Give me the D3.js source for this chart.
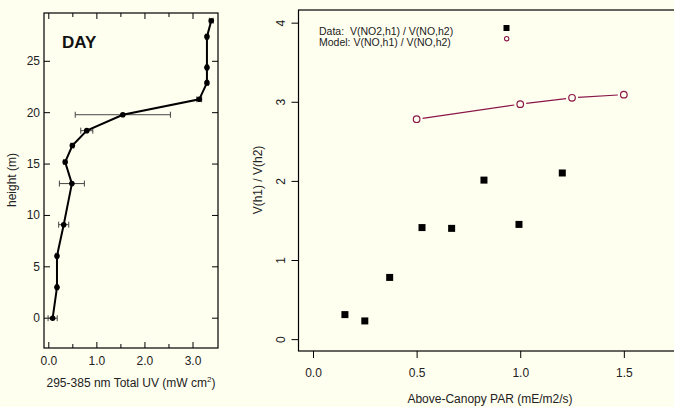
<!DOCTYPE html>
<html>
<head>
<meta charset="utf-8">
<script src="https://cdn.jsdelivr.net/npm/d3@7"></script>
<style>
  body { margin: 0; background: #FFFFF0; }
  svg { display: block; font-family: "Liberation Sans", Arial, sans-serif; }
</style>
</head>
<body>
<div id="chart"></div>
<script>
// left panel: UV profile
var uvHeight = [0, 3.0, 6.06, 9.1, 13.1, 15.2, 16.8, 18.25, 19.8, 21.3, 22.9, 24.4, 27.4, 28.95];
var uvValue  = [0.08, 0.17, 0.17, 0.31, 0.48, 0.34, 0.49, 0.79, 1.54, 3.13, 3.29, 3.29, 3.29, 3.38];
var uvErr    = [0.095, 0.03, 0.03, 0.105, 0.26, 0.03, 0.03, 0.125, 0.99, 0.05, 0.03, 0.03, 0.03, 0.04];
var uvXTicks = [0, 1, 2, 3];
var uvXMinor = [0.5, 1.5, 2.5];
var uvYTicks = [0, 5, 10, 15, 20, 25];

// right panel: ratio vs PAR
var parX      = [0.154, 0.25, 0.37, 0.526, 0.669, 0.825, 0.994, 1.203];
var ratioData = [0.31, 0.23, 0.78, 1.41, 1.40, 2.01, 1.45, 2.10];
var modelX    = [0.5, 1.0, 1.25, 1.5];
var modelY    = [2.78, 2.97, 3.05, 3.09];
var parTicks  = [0, 0.5, 1.0, 1.5];
var ratioTicks = [0, 1, 2, 3, 4];

var bg = "#FFFFF0";
var maroon = "#8A1648";

var svg = d3.select("#chart").append("svg")
  .attr("width", 674)
  .attr("height", 407);

svg.append("rect").attr("width", 674).attr("height", 407).attr("fill", bg);

// ---------- left panel ----------
var L = { x0: 44, x1: 218, y0: 13, y1: 348 };
var xL = d3.scaleLinear().domain([-0.1, 3.52]).range([L.x0, L.x1]);
var yL = d3.scaleLinear().domain([-2.9, 29.7]).range([L.y1, L.y0]);

var left = svg.append("g");

left.append("rect")
  .attr("x", L.x0).attr("y", L.y0)
  .attr("width", L.x1 - L.x0).attr("height", L.y1 - L.y0)
  .attr("fill", "none").attr("stroke", "#000").attr("stroke-width", 1.2);

// inward ticks
var tickLen = function(v) { return uvXTicks.indexOf(v) >= 0 ? 6 : 4; };
var allX = uvXTicks.concat(uvXMinor);
left.selectAll(".xb").data(allX).enter().append("line")
  .attr("x1", d => xL(d)).attr("x2", d => xL(d))
  .attr("y1", L.y1).attr("y2", d => L.y1 - tickLen(d))
  .attr("stroke", "#000");
left.selectAll(".xt").data(allX).enter().append("line")
  .attr("x1", d => xL(d)).attr("x2", d => xL(d))
  .attr("y1", L.y0).attr("y2", d => L.y0 + tickLen(d))
  .attr("stroke", "#000");
left.selectAll(".yl").data(uvYTicks).enter().append("line")
  .attr("x1", L.x0).attr("x2", L.x0 + 6)
  .attr("y1", d => yL(d)).attr("y2", d => yL(d))
  .attr("stroke", "#000");
left.selectAll(".yr").data(uvYTicks).enter().append("line")
  .attr("x1", L.x1).attr("x2", L.x1 - 6)
  .attr("y1", d => yL(d)).attr("y2", d => yL(d))
  .attr("stroke", "#000");

left.selectAll(".xlab").data(uvXTicks).enter().append("text")
  .attr("x", d => xL(d)).attr("y", 365)
  .attr("text-anchor", "middle").attr("font-size", 12).attr("fill", "#222")
  .text(d => d3.format(".1f")(d));
left.selectAll(".ylab").data(uvYTicks).enter().append("text")
  .attr("x", 40).attr("y", d => yL(d) + 4)
  .attr("text-anchor", "end").attr("font-size", 12).attr("fill", "#222")
  .text(d => d);

var xt = left.append("text")
  .attr("x", 131).attr("y", 387)
  .attr("text-anchor", "middle").attr("font-size", 12).attr("fill", "#222");
xt.append("tspan").text("295-385 nm Total UV (mW cm");
xt.append("tspan").attr("dy", -5).attr("font-size", 8).text("2");
xt.append("tspan").attr("dy", 5).text(")");

left.append("text")
  .attr("transform", "translate(16,180) rotate(-90)")
  .attr("text-anchor", "middle").attr("font-size", 12).attr("fill", "#222")
  .text("height (m)");

left.append("text")
  .attr("x", 62).attr("y", 48)
  .attr("font-size", 17).attr("font-weight", "bold").attr("fill", "#111")
  .text("DAY");

// error bars
var uvRows = uvHeight.map((h, i) => ({ h: h, v: uvValue[i], e: uvErr[i] }));
var eb = left.append("g").attr("stroke", "#444").attr("stroke-width", 1);
eb.selectAll(".eh").data(uvRows).enter().append("line")
  .attr("x1", d => xL(d.v - d.e)).attr("x2", d => xL(d.v + d.e))
  .attr("y1", d => yL(d.h)).attr("y2", d => yL(d.h));
eb.selectAll(".ec1").data(uvRows).enter().append("line")
  .attr("x1", d => xL(d.v - d.e)).attr("x2", d => xL(d.v - d.e))
  .attr("y1", d => yL(d.h) - 3).attr("y2", d => yL(d.h) + 3);
eb.selectAll(".ec2").data(uvRows).enter().append("line")
  .attr("x1", d => xL(d.v + d.e)).attr("x2", d => xL(d.v + d.e))
  .attr("y1", d => yL(d.h) - 3).attr("y2", d => yL(d.h) + 3);

left.append("path")
  .datum(uvRows)
  .attr("fill", "none").attr("stroke", "#000").attr("stroke-width", 2)
  .attr("d", d3.line().x(d => xL(d.v)).y(d => yL(d.h)));

left.selectAll(".pt").data(uvRows).enter().append("circle")
  .attr("cx", d => xL(d.v)).attr("cy", d => yL(d.h))
  .attr("r", 2.8).attr("fill", "#000");

// ---------- right panel ----------
var R = { x0: 298.5, x1: 686, y0: 10, y1: 351 };
var xR = d3.scaleLinear().domain([-0.07, 1.8]).range([R.x0, R.x1]);
var yR = d3.scaleLinear().domain([-0.15, 4.16]).range([R.y1, R.y0]);

var right = svg.append("g");
right.append("rect")
  .attr("x", R.x0).attr("y", R.y0)
  .attr("width", R.x1 - R.x0).attr("height", R.y1 - R.y0)
  .attr("fill", "none").attr("stroke", "#000").attr("stroke-width", 1.2);

right.append("g")
  .attr("transform", `translate(0,${R.y1})`)
  .call(d3.axisBottom(xR).tickValues(parTicks).tickFormat(d3.format(".1f")).tickSize(7).tickPadding(10))
  .call(g => g.select(".domain").remove())
  .call(g => g.selectAll("text").attr("font-size", 12).attr("fill", "#222").attr("font-family", null));

var yAx = right.append("g")
  .attr("transform", `translate(${R.x0},0)`)
  .call(d3.axisLeft(yR).tickValues(ratioTicks).tickFormat(d3.format("d")).tickSize(7))
  .call(g => g.select(".domain").remove());
yAx.selectAll("text")
  .attr("font-size", 12).attr("fill", "#222").attr("font-family", null)
  .attr("text-anchor", "middle").attr("x", null).attr("dy", null)
  .attr("transform", "translate(-14,0) rotate(-90)");

right.append("text")
  .attr("x", 490).attr("y", 403)
  .attr("text-anchor", "middle").attr("font-size", 12).attr("fill", "#222")
  .text("Above-Canopy PAR (mE/m2/s)");
right.append("text")
  .attr("transform", "translate(262,180) rotate(-90)")
  .attr("text-anchor", "middle").attr("font-size", 12).attr("fill", "#222")
  .text("V(h1) / V(h2)");

// model line with gaps around points
var mPts = modelX.map((x, i) => [xR(x), yR(modelY[i])]);
var segs = d3.pairs(mPts).map(function(p) {
  var dx = p[1][0] - p[0][0], dy = p[1][1] - p[0][1];
  var len = Math.sqrt(dx * dx + dy * dy), g = 6;
  return [p[0][0] + dx * g / len, p[0][1] + dy * g / len, p[1][0] - dx * g / len, p[1][1] - dy * g / len];
});
right.selectAll(".seg").data(segs).enter().append("line")
  .attr("x1", d => d[0]).attr("y1", d => d[1]).attr("x2", d => d[2]).attr("y2", d => d[3])
  .attr("stroke", maroon).attr("stroke-width", 1.2);
right.selectAll(".mpt").data(mPts).enter().append("circle")
  .attr("cx", d => d[0]).attr("cy", d => d[1]).attr("r", 3.3)
  .attr("fill", bg).attr("stroke", maroon).attr("stroke-width", 1.2);

right.selectAll(".sq").data(parX).enter().append("rect")
  .attr("x", (d) => xR(d) - 3.5)
  .attr("y", (d, i) => yR(ratioData[i]) - 3.5)
  .attr("width", 7).attr("height", 7).attr("fill", "#000");

// legend
right.append("text").attr("x", 319).attr("y", 34.5)
  .attr("font-size", 10.5).attr("fill", "#222").attr("xml:space", "preserve")
  .text("Data:  V(NO2,h1) / V(NO,h2)");
right.append("text").attr("x", 319).attr("y", 46)
  .attr("font-size", 10.5).attr("fill", "#222")
  .text("Model: V(NO,h1) / V(NO,h2)");
right.append("rect").attr("x", 503.5).attr("y", 25).attr("width", 6).attr("height", 6).attr("fill", "#000");
right.append("circle").attr("cx", 506.7).attr("cy", 38.7).attr("r", 2.2)
  .attr("fill", bg).attr("stroke", maroon).attr("stroke-width", 1.1);
</script>
</body>
</html>
